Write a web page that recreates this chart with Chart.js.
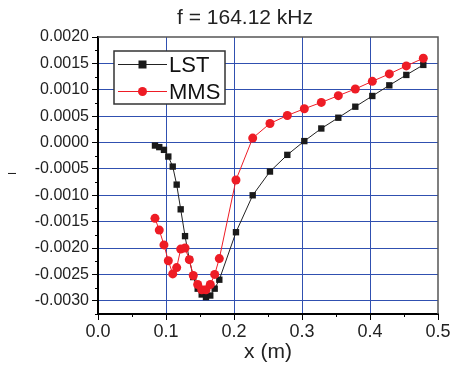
<!DOCTYPE html>
<html>
<head>
<meta charset="utf-8">
<script src="https://cdn.jsdelivr.net/npm/chart.js@4/dist/chart.umd.min.js"></script>
<style>
  html, body { margin: 0; padding: 0; background: #fff; }
  #wrap { width: 452px; height: 367px; }
</style>
</head>
<body>
<div id="wrap"><canvas id="chart" width="452" height="367"></canvas></div>
<script>
// Data
const chartTitle = 'f = 164.12 kHz';
const xTitle = 'x (m)';
const yTitle = 'I';
const seriesNames = ['LST', 'MMS'];

const xLST = [0.0838, 0.0901, 0.0970, 0.1034, 0.1099, 0.1157, 0.1216, 0.1280, 0.1343, 0.1401,
  0.1466, 0.1525, 0.1588, 0.1651, 0.1716, 0.1784, 0.2029, 0.2275, 0.2529, 0.2784,
  0.3034, 0.3284, 0.3534, 0.3784, 0.4034, 0.4284, 0.4534, 0.4784];
const yLST = [-0.000057, -0.000087, -0.000139, -0.000266, -0.000456, -0.000798, -0.001266, -0.001774, -0.002217, -0.00255,
  -0.00277, -0.00288, -0.00293, -0.0029, -0.00277, -0.0026, -0.0017, -0.001, -0.00055, -0.000234,
  0.000027, 0.000266, 0.00047, 0.000679, 0.000882, 0.001084, 0.001281, 0.001471];

const xMMS = [0.0838, 0.0901, 0.0970, 0.1034, 0.1099, 0.1157, 0.1216, 0.1280, 0.1343, 0.1401,
  0.1466, 0.1525, 0.1588, 0.1651, 0.1716, 0.1784, 0.2029, 0.2275, 0.2529, 0.2784,
  0.3034, 0.3284, 0.3534, 0.3784, 0.4034, 0.4284, 0.4534, 0.4784];
const yMMS = [-0.001437, -0.00166, -0.00194, -0.00224, -0.00249, -0.00237, -0.00202, -0.002, -0.00222, -0.00252,
  -0.00269, -0.00279, -0.00279, -0.00269, -0.0025, -0.0022, -0.00071, 0.000084, 0.000361, 0.000513,
  0.00064, 0.00076, 0.000888, 0.001015, 0.00116, 0.0013, 0.001452, 0.001597];

// Axis ranges and tick steps
const xMin = 0, xMax = 0.5, xMajor = 0.1, xMinor = 0.05;
const yMin = -0.00325, yMax = 0.002, yMajor = 0.0005, yMinor = 0.00025;

const FONT = "'Liberation Sans', Arial, sans-serif";
const GRID_BLUE = '#3050b0';
const BLACK = '#1a1a1a';
const RED = '#ee1c25';

function toPoints(xs, ys) {
  return xs.map((x, i) => ({ x: x, y: ys[i] }));
}

function isMajor(value, step) {
  const r = value / step;
  return Math.abs(r - Math.round(r)) < 1e-6;
}

function buildTicks(min, max, step) {
  const ticks = [];
  const n = Math.round((max - min) / step);
  for (let i = 0; i <= n; i++) {
    ticks.push({ value: Math.round((min + i * step) * 1e8) / 1e8 });
  }
  return ticks;
}

// Minor ticks, frame, titles and boxed legend
const decorPlugin = {
  id: 'decor',
  afterDraw(chart) {
    const ctx = chart.ctx;
    const area = chart.chartArea;
    const xs = chart.scales.x;
    const ys = chart.scales.y;
    ctx.save();

    // short minor ticks
    ctx.strokeStyle = '#000';
    ctx.lineWidth = 1;
    ctx.beginPath();
    xs.ticks.forEach(t => {
      if (!isMajor(t.value, xMajor)) {
        const px = Math.round(xs.getPixelForValue(t.value)) + 0.5;
        ctx.moveTo(px, area.bottom);
        ctx.lineTo(px, area.bottom + 3);
      }
    });
    ys.ticks.forEach(t => {
      if (!isMajor(t.value, yMajor)) {
        const py = Math.round(ys.getPixelForValue(t.value)) + 0.5;
        ctx.moveTo(area.left, py);
        ctx.lineTo(area.left - 3, py);
      }
    });
    ctx.stroke();

    // top and right frame
    ctx.strokeStyle = '#555';
    ctx.lineWidth = 1.5;
    ctx.beginPath();
    ctx.moveTo(area.left, area.top);
    ctx.lineTo(area.right, area.top);
    ctx.lineTo(area.right, area.bottom);
    ctx.stroke();

    // title
    ctx.fillStyle = '#222';
    ctx.font = '21px ' + FONT;
    ctx.textAlign = 'center';
    ctx.textBaseline = 'middle';
    ctx.fillText(chartTitle, 245, 18);

    // y title, rotated
    ctx.save();
    ctx.translate(13, (area.top + area.bottom) / 2 - 2);
    ctx.rotate(-Math.PI / 2);
    ctx.font = '11px ' + FONT;
    ctx.fillText(yTitle, 0, 0);
    ctx.restore();

    // legend
    const lx = area.left + 16, ly = area.top + 14, lw = 111, lh = 53;
    ctx.fillStyle = '#fff';
    ctx.fillRect(lx, ly, lw, lh);
    ctx.strokeStyle = '#333';
    ctx.lineWidth = 1.5;
    ctx.strokeRect(lx, ly, lw, lh);
    ctx.font = '22px ' + FONT;
    ctx.textAlign = 'left';
    chart.data.datasets.forEach((ds, i) => {
      const rowY = ly + 13.5 + i * 27;
      ctx.strokeStyle = ds.borderColor;
      ctx.lineWidth = 1;
      ctx.beginPath();
      ctx.moveTo(lx + 4, rowY);
      ctx.lineTo(lx + 53, rowY);
      ctx.stroke();
      const mx = lx + 28.5;
      ctx.fillStyle = ds.pointBackgroundColor;
      if (ds.pointStyle === 'rect') {
        ctx.fillRect(mx - 4, rowY - 4, 8, 8);
      } else {
        ctx.beginPath();
        ctx.arc(mx, rowY, 4.5, 0, Math.PI * 2);
        ctx.fill();
      }
      ctx.fillStyle = '#111';
      ctx.fillText(ds.label, lx + 55, rowY + 1);
    });
    ctx.restore();
  }
};

const config = {
  type: 'line',
  data: {
    datasets: [
      {
        label: seriesNames[0],
        data: toPoints(xLST, yLST),
        borderColor: '#222',
        borderWidth: 1,
        pointStyle: 'rect',
        pointRadius: 4.5,
        pointBackgroundColor: BLACK,
        pointBorderColor: BLACK,
        pointBorderWidth: 0,
        order: 2
      },
      {
        label: seriesNames[1],
        data: toPoints(xMMS, yMMS),
        borderColor: RED,
        borderWidth: 1,
        pointStyle: 'circle',
        pointRadius: 4.5,
        pointBackgroundColor: RED,
        pointBorderColor: RED,
        pointBorderWidth: 0,
        order: 1
      }
    ]
  },
  options: {
    responsive: false,
    animation: false,
    layout: { padding: { top: 37, right: 14, left: 0, bottom: 0 } },
    elements: { line: { tension: 0 } },
    scales: {
      x: {
        type: 'linear',
        min: xMin,
        max: xMax,
        afterBuildTicks: scale => { scale.ticks = buildTicks(xMin, xMax, xMinor); },
        afterFit: scale => { scale.height = 53; },
        border: { color: '#000', width: 2 },
        grid: {
          color: c => (c.tick && isMajor(c.tick.value, xMajor) && c.tick.value > xMin && c.tick.value < xMax) ? GRID_BLUE : 'rgba(0,0,0,0)',
          tickColor: c => (c.tick && isMajor(c.tick.value, xMajor)) ? '#000' : 'rgba(0,0,0,0)',
          tickLength: 6,
          lineWidth: 1
        },
        ticks: {
          autoSkip: false,
          maxRotation: 0,
          padding: 1,
          color: '#222',
          font: { family: FONT, size: 18 },
          callback: v => isMajor(v, xMajor) ? v.toFixed(1) : ''
        },
        title: {
          display: true,
          text: xTitle,
          color: '#222',
          font: { family: FONT, size: 21 },
          padding: { top: 0, bottom: 2 }
        }
      },
      y: {
        type: 'linear',
        min: yMin,
        max: yMax,
        afterBuildTicks: scale => { scale.ticks = buildTicks(yMin, yMax, yMinor); },
        afterFit: scale => { scale.width = 98; },
        border: { color: '#000', width: 2 },
        grid: {
          color: c => (c.tick && isMajor(c.tick.value, yMajor) && c.tick.value < yMax) ? GRID_BLUE : 'rgba(0,0,0,0)',
          tickColor: c => (c.tick && isMajor(c.tick.value, yMajor)) ? '#000' : 'rgba(0,0,0,0)',
          tickLength: 6,
          lineWidth: 1
        },
        ticks: {
          autoSkip: false,
          padding: 3,
          color: '#222',
          font: { family: FONT, size: 16 },
          callback: v => {
            if (!isMajor(v, yMajor)) return '';
            if (Math.abs(v) < 1e-9) return '0.0000';
            return v.toFixed(4);
          }
        },
        title: { display: false }
      }
    },
    plugins: {
      legend: { display: false },
      title: { display: false },
      tooltip: { enabled: false }
    }
  },
  plugins: [decorPlugin]
};

window.addEventListener('load', function() {
  new Chart(document.getElementById('chart').getContext('2d'), config);
});
</script>
</body>
</html>
